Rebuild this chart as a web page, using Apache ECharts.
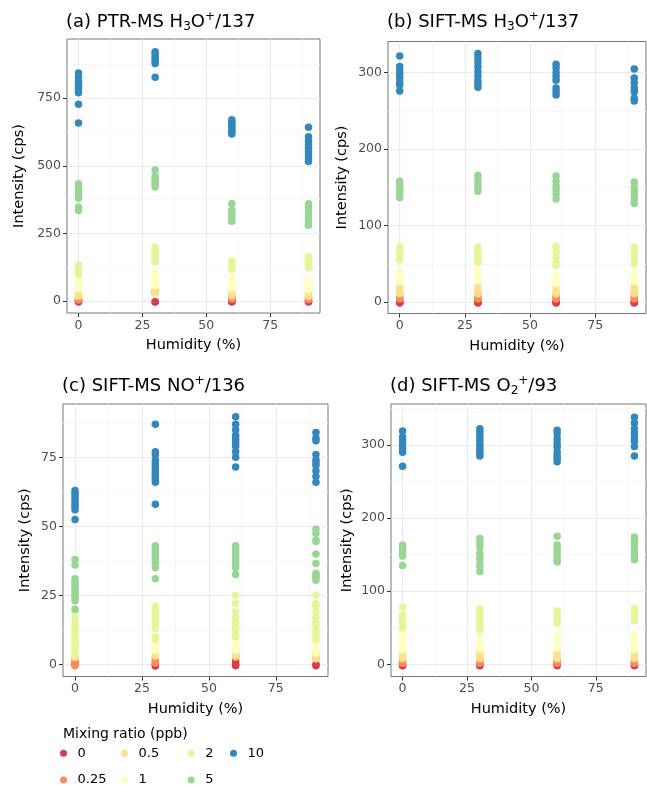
<!DOCTYPE html>
<html>
<head>
<meta charset="utf-8">
<script src="https://cdn.jsdelivr.net/npm/echarts@6/dist/echarts.min.js"></script>
<style>html,body{margin:0;padding:0;background:#fff}#c{width:647px;height:789px}</style>
</head>
<body>
<div id="c"></div>
<script>
// ---------------- data ----------------
const humidity = [0, 30, 60, 90];
const mixingRatios = ['0', '0.25', '0.5', '1', '2', '5', '10'];
const ratioColors = ['#D53E4F', '#FC8D59', '#FEE08B', '#FFFFBF', '#E6F598', '#99D594', '#3288BD'];
const xTicks = [0, 25, 50, 75];
const yTicksA = [0, 250, 500, 750];
const yTicksB = [0, 100, 200, 300];
const yTicksC = [0, 25, 50, 75];
const yTicksD = [0, 100, 200, 300];

// values indexed [mixing ratio][humidity]
const ptrH3O137 = [
  [[-3, -1, 1], [-3, -2], [-3, -1, 1], [-3, -1, 1]],
  [[4, 8, 12], [33, 38], [8, 12, 16], [6, 10, 14]],
  [[18, 25, 33], [30, 40, 50], [20, 28, 38], [18, 27, 36]],
  [[45, 55, 63, 70], [58, 70, 82, 95, 107], [48, 60, 72, 84, 90], [44, 54, 64, 75]],
  [[97, 105, 115, 125, 133], [145, 155, 165, 178, 190, 200], [117, 126, 135, 142, 148], [122, 130, 140, 150, 160, 165]],
  [[335, 348, 380, 390, 400, 410, 420, 428, 434], [422, 430, 440, 450, 462, 485], [295, 305, 315, 325, 335, 360], [280, 290, 300, 315, 330, 345, 360]],
  [[658, 728, 770, 780, 790, 800, 812, 828, 843], [828, 878, 886, 895, 905, 915, 922], [618, 625, 632, 640, 648, 655, 662, 670], [516, 528, 540, 553, 565, 578, 590, 608, 643]]
];
const siftH3O137 = [
  [[-1, 0, 1], [-1, 0, 1], [-1, 0, 1], [-1, 0, 1]],
  [[4, 6, 9], [4, 6, 9], [4, 6, 9], [4, 6, 9]],
  [[11, 15, 20], [11, 15, 20], [11, 15, 20], [11, 15, 20]],
  [[27, 33, 40], [28, 35, 42], [24, 29, 35], [27, 32, 38]],
  [[55, 60, 66, 72], [52, 55, 60, 66, 72], [48, 52, 59, 66, 73], [50, 56, 64, 72]],
  [[137, 143, 148, 153, 158], [145, 150, 155, 160, 166], [135, 141, 147, 152, 158, 165], [129, 135, 140, 145, 150, 157]],
  [[276, 284, 288, 293, 298, 303, 308, 322], [281, 286, 290, 296, 302, 308, 314, 320, 325], [271, 275, 280, 290, 295, 300, 306, 311], [263, 267, 275, 280, 287, 293, 305]]
];
const siftNO136 = [
  [[0, 0.5], [-0.6, 0], [-0.5, 0, 1], [-0.5, 0]],
  [[-0.5, 0.5, 1.5], [0.5, 1.5, 2.2], [2.5, 3], [2, 3]],
  [[2.5, 3.5, 5], [3, 4.5, 6, 7], [3, 4, 5, 6], [2, 3, 4, 5]],
  [[3.5, 4.5, 5.5, 6.5], [5, 6, 7, 8.5, 10], [5, 6.5, 8, 10], [4, 5, 7, 8, 9, 11]],
  [[3.5, 6, 7, 8, 9, 10, 11, 12, 13, 14, 15, 17, 19], [9, 10, 13, 14, 15, 16, 17, 18, 19, 20, 21], [10, 11, 13, 14, 15, 17, 19, 22, 25], [9, 10, 12, 14, 15, 17, 19, 21, 22, 25]],
  [[20, 23, 24, 25, 26, 27, 28, 29, 30, 31, 36, 38], [31, 35, 37, 38, 39, 40, 41, 42, 43], [32.5, 35, 36, 37, 38, 39, 40, 41, 42, 43], [30.5, 31.5, 32, 33, 36.5, 40, 44.5, 45, 47.5, 49]],
  [[52.5, 56, 57, 58, 59, 60, 61, 62, 63], [58, 66, 67, 68, 69, 70, 71, 72, 73, 74, 76, 77, 87], [71.5, 75, 77, 79, 80, 81, 82, 83, 85, 87, 89.7], [66, 68, 70, 72, 73, 74, 76, 81, 82, 84]]
];
const siftO293 = [
  [[-2, 0], [-2, 0], [-2, 0], [-2, 0]],
  [[1.5, 3, 6], [1.5, 3, 6], [1.5, 3, 6], [1.5, 3, 6]],
  [[8, 12, 16], [8, 12, 16], [8, 12, 16], [8, 12, 16]],
  [[20, 24, 29, 35, 41], [21, 26, 31, 36], [22, 28, 34, 40], [20, 24, 29, 35, 41]],
  [[50, 54, 58, 63, 67, 78], [47, 50, 55, 60, 65, 70, 76], [56, 58, 63, 68, 73], [60, 62, 67, 72, 76]],
  [[135, 148, 153, 157, 160, 163], [127, 133, 138, 145, 152, 160, 166, 172], [140, 143, 148, 153, 158, 163, 175], [143, 147, 152, 157, 162, 168, 174]],
  [[271, 290, 295, 300, 305, 311, 319], [285, 288, 292, 296, 300, 305, 310, 314, 318, 322], [277, 281, 285, 290, 297, 302, 308, 315, 320], [285, 298, 305, 310, 316, 322, 330, 338]]
];

// ---------------- layout ----------------
const FONT = 'DejaVu Sans';
const panels = [
  { prefix: '(a) PTR-MS H', sub: '3', mid: 'O', sup: '+', suffix: '/137', data: ptrH3O137, yTicks: yTicksA, step: 250, ymin: -44, ymax: 969,
    grid: { left: 67, top: 39, width: 253, height: 274 }, titleTop: 11, nameGap: 40 },
  { prefix: '(b) SIFT-MS H', sub: '3', mid: 'O', sup: '+', suffix: '/137', data: siftH3O137, yTicks: yTicksB, step: 100, ymin: -14.8, ymax: 340.8,
    grid: { left: 388, top: 41.5, width: 258, height: 272 }, titleTop: 11, nameGap: 38 },
  { prefix: '(c) SIFT-MS NO', sub: '', mid: '', sup: '+', suffix: '/136', data: siftNO136, yTicks: yTicksC, step: 25, ymin: -4.4, ymax: 94.3,
    grid: { left: 63, top: 404, width: 265, height: 272.5 }, titleTop: 375, nameGap: 30 },
  { prefix: '(d) SIFT-MS O', sub: '2', mid: '', sup: '+', suffix: '/93', data: siftO293, yTicks: yTicksD, step: 100, ymin: -16.7, ymax: 356,
    grid: { left: 391, top: 404, width: 255, height: 272.5 }, titleTop: 375, nameGap: 36 }
];

const grids = [], xAxes = [], yAxes = [], series = [];
const titles = [];
const rich = {
  n: { fontSize: 18, fontFamily: FONT, color: '#000', lineHeight: 22 },
  sub: { fontSize: 12, fontFamily: FONT, color: '#000', lineHeight: 12, verticalAlign: 'bottom' },
  sup: { fontSize: 12, fontFamily: FONT, color: '#000', lineHeight: 12, verticalAlign: 'top' }
};

panels.forEach((p, i) => {
  grids.push(Object.assign({ show: true, borderColor: '#777', borderWidth: 1, backgroundColor: '#fff' }, p.grid));
  let txt = '{n|' + p.prefix + '}';
  if (p.sub) txt += '{sub|' + p.sub + '}';
  if (p.mid) txt += '{n|' + p.mid + '}';
  txt += '{sup|' + p.sup + '}{n|' + p.suffix + '}';
  titles.push({ text: txt, left: p.grid.left - 1, top: p.titleTop, padding: 0, textStyle: { rich: rich, fontSize: 18, fontWeight: 'normal' } });
  xAxes.push({
    type: 'value', gridIndex: i, min: -4.5, max: 94.5, minInterval: 25, maxInterval: 25,
    name: 'Humidity (%)', nameLocation: 'middle', nameGap: 25,
    nameTextStyle: { fontSize: 14.5, color: '#000', fontFamily: FONT },
    axisLine: { show: false, onZero: false },
    axisTick: { show: true, length: 4, lineStyle: { color: '#333' }, customValues: xTicks },
    axisLabel: { customValues: xTicks, fontSize: 12.5, color: '#4D4D4D', margin: 6, fontFamily: FONT },
    splitLine: { show: true, lineStyle: { color: '#EBEBEB', width: 1.2 } },
    minorTick: { show: false, splitNumber: 2 },
    minorSplitLine: { show: true, lineStyle: { color: '#F4F4F4', width: 0.8 } }
  });
  yAxes.push({
    type: 'value', gridIndex: i, min: p.ymin, max: p.ymax, minInterval: p.step, maxInterval: p.step,
    name: 'Intensity (cps)', nameLocation: 'middle', nameGap: p.nameGap,
    nameTextStyle: { fontSize: 14.5, color: '#000', fontFamily: FONT },
    axisLine: { show: false, onZero: false },
    axisTick: { show: true, length: 4, lineStyle: { color: '#333' }, customValues: p.yTicks },
    axisLabel: { customValues: p.yTicks, fontSize: 12.5, color: '#4D4D4D', margin: 6, fontFamily: FONT },
    splitLine: { show: true, lineStyle: { color: '#EBEBEB', width: 1.2 } },
    minorTick: { show: false, splitNumber: 2 },
    minorSplitLine: { show: true, lineStyle: { color: '#F4F4F4', width: 0.8 } }
  });
  mixingRatios.forEach((r, k) => {
    const pts = [];
    humidity.forEach((h, j) => { p.data[k][j].forEach(v => pts.push([h, v])); });
    series.push({
      type: 'scatter', name: r, xAxisIndex: i, yAxisIndex: i, data: pts,
      symbol: 'circle', symbolSize: 7.5, itemStyle: { color: ratioColors[k], opacity: 1 },
      emphasis: { disabled: true }, silent: true
    });
  });
});

titles.push({ text: 'Mixing ratio (ppb)', left: 63, top: 727, padding: 0,
  textStyle: { fontSize: 14, fontWeight: 'normal', color: '#000', fontFamily: FONT } });

const legendCols = [['0', '0.25'], ['0.5', '1'], ['2', '5'], ['10']];
const legendLefts = [60, 121, 187.7, 230];
const legends = legendCols.map((d, i) => ({
  data: d, orient: 'vertical', left: legendLefts[i], top: 746.8, padding: 0,
  itemGap: 13.7, itemWidth: 18, itemHeight: 7, icon: 'circle', selectedMode: false,
  textStyle: { fontSize: 13, color: '#000', fontFamily: FONT }
}));

const chart = echarts.init(document.getElementById('c'), null, { renderer: 'canvas' });
chart.setOption({
  animation: false,
  backgroundColor: '#fff',
  title: titles,
  legend: legends,
  grid: grids,
  xAxis: xAxes,
  yAxis: yAxes,
  series: series
});
</script>
</body>
</html>
